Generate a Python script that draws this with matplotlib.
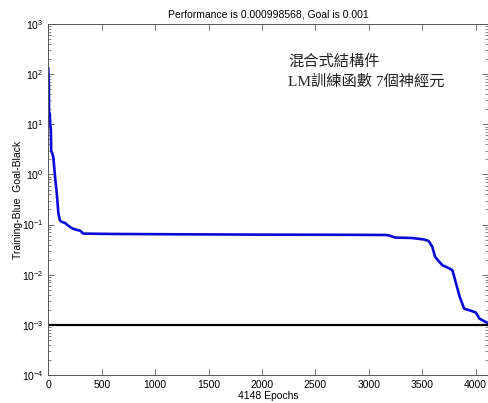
import matplotlib
matplotlib.use("Agg")
import matplotlib.pyplot as plt
from matplotlib.ticker import LogLocator, MultipleLocator, NullLocator

title_text = "Performance is 0.000998568, Goal is 0.001"
xlabel_text = "4148 Epochs"
ylabel_text = "Training-Blue  Goal-Black"
note_line1 = "混合式結構件"
note_line2 = "LM訓練函數 7個神經元"

epochs = [0, 5, 7, 14, 18, 24, 27, 38, 47, 63, 79, 94, 109, 130, 155, 187, 219,
          260, 300, 328, 600, 1200, 2000, 2800, 3150, 3185, 3248, 3400, 3515,
          3560, 3594, 3619, 3650, 3688, 3740, 3782, 3800, 3820, 3851, 3892,
          3960, 4002, 4034, 4080, 4148]
perf = [130, 60, 18, 16, 10, 8, 3.0, 2.6, 2.2, 0.9, 0.43, 0.17, 0.12, 0.112,
        0.108, 0.095, 0.085, 0.079, 0.075, 0.066, 0.065, 0.064, 0.063, 0.0625,
        0.062, 0.061, 0.055, 0.054, 0.0505, 0.047, 0.036, 0.023, 0.019, 0.0155,
        0.0138, 0.0123, 0.009, 0.0062, 0.0036, 0.0021, 0.0019, 0.00176,
        0.00134, 0.00118, 0.000998568]
goal = 0.001
x_max = 4118
y_min, y_max = 1e-4, 1e3

plt.rcParams['font.family'] = ['Liberation Sans', 'DejaVu Sans']
plt.rcParams['mathtext.fontset'] = 'custom'
plt.rcParams['mathtext.rm'] = 'Liberation Sans'
plt.rcParams['mathtext.it'] = 'Liberation Sans'

fig = plt.figure(figsize=(4.89, 4.03), dpi=100)
ax = fig.add_axes([48.3 / 489, 28 / 403, 440 / 489, 351 / 403])

ax.plot(epochs, perf, color='#0a0ad8', lw=1.9, solid_joinstyle='round')
ax.plot([0, 4148], [goal, goal], color='black', lw=1.6)

ax.set_yscale('log')
ax.set_xlim(0, x_max)
ax.set_ylim(y_min, y_max)
ax.xaxis.set_major_locator(MultipleLocator(500))
ax.xaxis.set_minor_locator(NullLocator())
ax.yaxis.set_major_locator(LogLocator(base=10, numticks=20))
ax.yaxis.set_minor_locator(LogLocator(base=10, subs=range(2, 10), numticks=20))

ax.tick_params(which='both', direction='in', top=True, right=True,
               labelsize=7.5, color='#555555')
ax.tick_params(which='major', length=4, width=0.6)
ax.tick_params(which='minor', length=2, width=0.5)
for s in ax.spines.values():
    s.set_color('#555555')
    s.set_linewidth(0.7)

ax.set_title(title_text, fontsize=7.5, pad=5)
ax.set_xlabel(xlabel_text, fontsize=7.5, labelpad=1)
ax.set_ylabel(ylabel_text, fontsize=7.5, labelpad=-1)

cjk = ['Liberation Serif', 'Noto Sans CJK TC', 'DejaVu Sans']
ax.text(0.545, 0.892, note_line1, transform=ax.transAxes, fontsize=11,
        family=cjk, va='center', ha='left', color='#222222')
ax.text(0.545, 0.835, note_line2, transform=ax.transAxes, fontsize=11,
        family=cjk, va='center', ha='left', color='#222222')

fig.savefig("out.png", dpi=100)
